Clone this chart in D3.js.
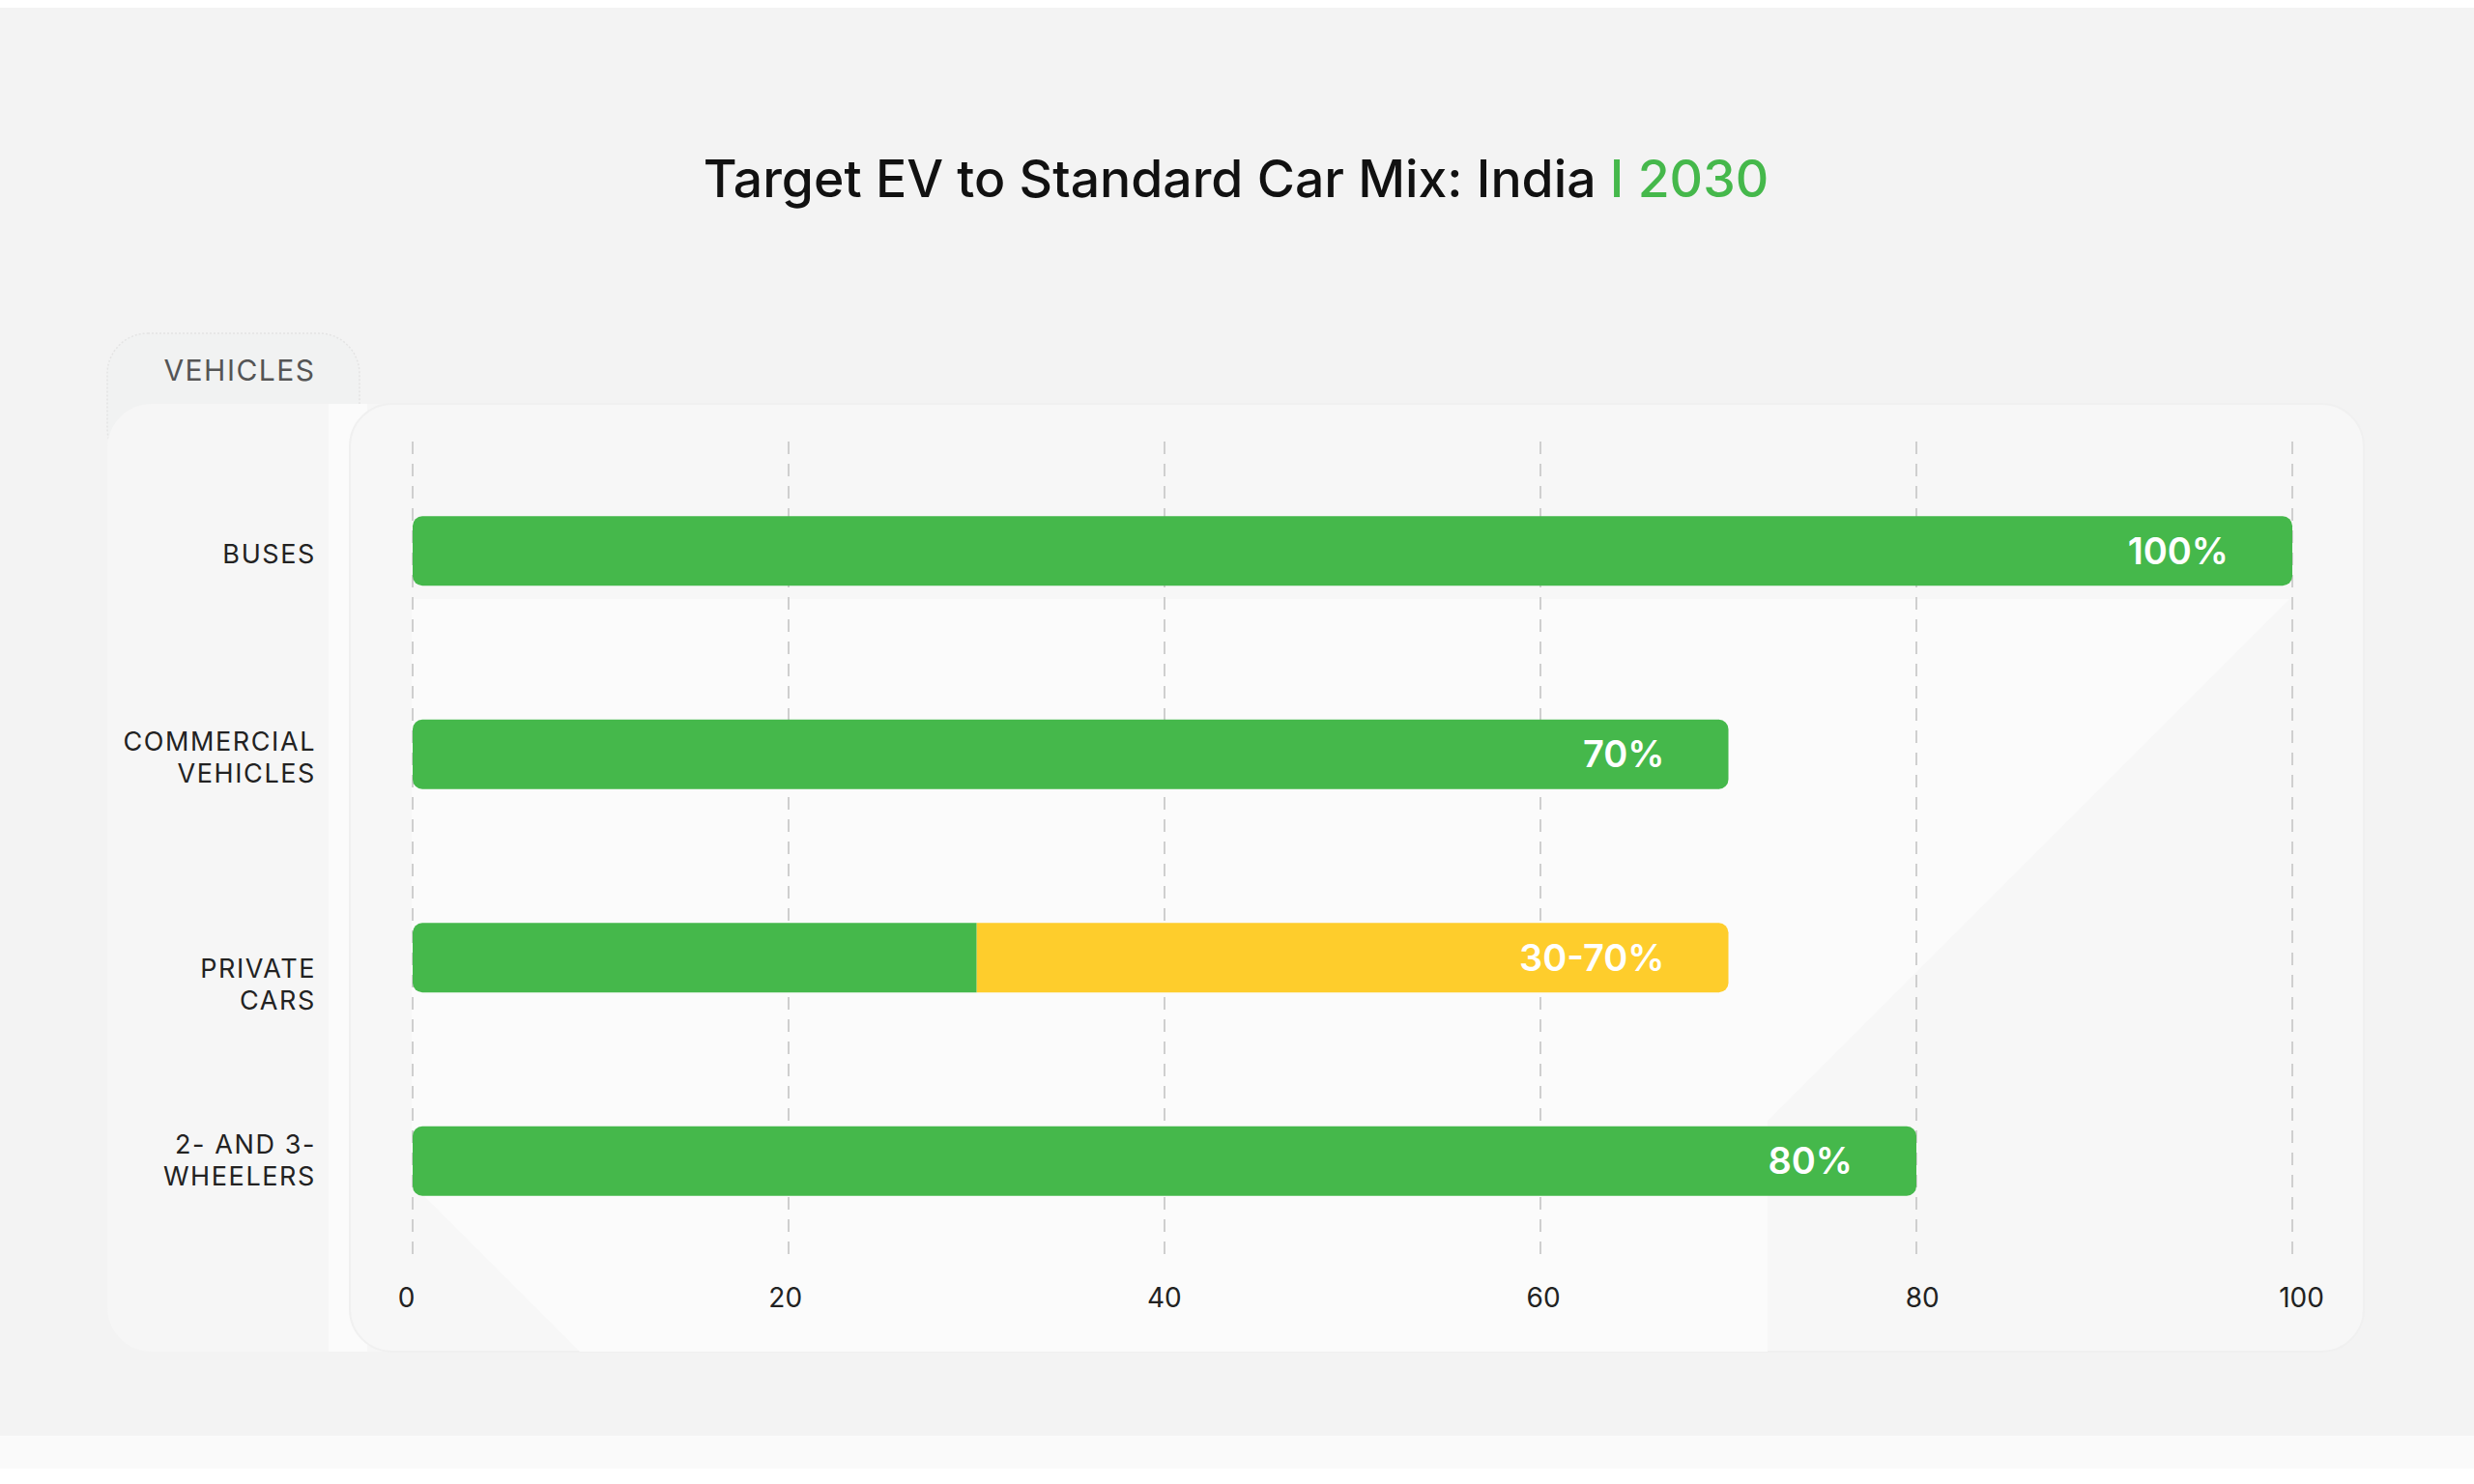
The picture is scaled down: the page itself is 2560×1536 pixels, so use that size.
<!DOCTYPE html>
<html>
<head>
<meta charset="utf-8">
<script src="https://cdn.jsdelivr.net/npm/d3@7"></script>
<style>
  html, body { margin: 0; padding: 0; background: #ffffff; }
  svg { display: block; }
</style>
</head>
<body>
<div id="chart"></div>
<script>
// chart values
const categories = ["BUSES", "COMMERCIAL VEHICLES", "PRIVATE CARS", "2- AND 3- WHEELERS"];
const labelLines = [["BUSES"], ["COMMERCIAL", "VEHICLES"], ["PRIVATE", "CARS"], ["2- AND 3-", "WHEELERS"]];
const lowValues = [100, 70, 30, 80];
const highValues = [100, 70, 70, 80];
const valueLabels = ["100%", "70%", "30-70%", "80%"];
const xTicks = [0, 20, 40, 60, 80, 100];

const width = 2560, height = 1536;
const green = "#45b84b", yellow = "#fecd2c";
const font = "Inter, 'Noto Sans', sans-serif";
// vertical nudge of the category labels, as set in the original layout
const labelShift = [0, 0, 25, -4];

const svg = d3.select("#chart")
  .append("svg")
    .attr("width", width)
    .attr("height", height)
    .attr("viewBox", [0, 0, width, height]);

/* background */
svg.append("rect").attr("x", 0).attr("y", 8).attr("width", width).attr("height", 1478).attr("fill", "#f3f3f3");
svg.append("rect").attr("x", 0).attr("y", 1486).attr("width", width).attr("height", 34).attr("fill", "#fafafa");

/* title */
const title = svg.append("text")
  .attr("x", 1279)
  .attr("y", 204)
  .attr("text-anchor", "middle")
  .style("font-family", font)
  .style("font-size", "53.5px")
  .style("font-weight", 500)
  .style("fill", "#111111");
title.append("tspan").text("Target EV to Standard Car Mix: India ");
title.append("tspan").style("fill", green).text("I 2030");

/* tab + card */
svg.append("rect")
  .attr("x", 111).attr("y", 345).attr("width", 261).attr("height", 140).attr("rx", 42)
  .attr("fill", "#f1f2f2").attr("stroke", "#e4e4e4").attr("stroke-width", 1.5).attr("stroke-dasharray", "2,2");
svg.append("text")
  .attr("x", 248).attr("y", 383).attr("dy", "0.35em")
  .attr("text-anchor", "middle")
  .style("font-family", font).style("font-size", "30px").style("font-weight", 400)
  .style("letter-spacing", "1.5px")
  .style("fill", "#555555")
  .text("VEHICLES");

svg.append("rect")
  .attr("x", 111).attr("y", 418).attr("width", 2335).attr("height", 981).attr("rx", 46)
  .attr("fill", "#f6f6f6");
svg.append("rect")
  .attr("x", 340).attr("y", 418).attr("width", 40).attr("height", 981)
  .attr("fill", "#fbfbfb");
svg.append("rect")
  .attr("x", 362).attr("y", 418).attr("width", 2084).attr("height", 981).attr("rx", 44)
  .attr("fill", "#f7f7f7").attr("stroke", "#f0f0f0").attr("stroke-width", 2);
// faint lighter backdrop shape in the plot panel
svg.append("path")
  .attr("d", "M426,620 L2369,620 L1829,1160 L1829,1399 L600,1399 L426,1225 Z")
  .attr("fill", "#fbfbfb");

/* scales */
const xScale = d3.scaleLinear()
  .domain([0, 100])
  .range([427, 2372]);

// tick labels sit a touch wider than the gridlines in the original
const tickScale = d3.scaleLinear()
  .domain([0, 100])
  .range([420, 2381]);

const yScale = d3.scaleBand()
  .domain(categories)
  .range([465, 1307])
  .paddingInner(0.658)
  .paddingOuter(0.329);

/* gridlines */
svg.append("g")
  .selectAll("line")
  .data(xTicks)
  .join("line")
    .attr("x1", d => xScale(d))
    .attr("x2", d => xScale(d))
    .attr("y1", 457)
    .attr("y2", 1306)
    .attr("stroke", "#cfcfcf")
    .attr("stroke-width", 2)
    .attr("stroke-dasharray", "13,10");

/* x axis */
const xAxis = d3.axisBottom(tickScale).tickValues(xTicks).tickSize(0).tickPadding(0);
const xGroup = svg.append("g")
  .attr("transform", "translate(0,1333)")
  .call(xAxis);
xGroup.select(".domain").remove();
xGroup.selectAll("text")
  .style("font-family", font)
  .style("font-size", "28px")
  .style("font-weight", 400)
  .style("fill", "#222222");

/* rounded bar path with separate left/right radius */
const barPath = (x0, x1, y, h, rl, rr) => {
  const p = d3.path();
  p.moveTo(x0 + rl, y);
  p.lineTo(x1 - rr, y);
  p.arcTo(x1, y, x1, y + rr, rr);
  p.lineTo(x1, y + h - rr);
  p.arcTo(x1, y + h, x1 - rr, y + h, rr);
  p.lineTo(x0 + rl, y + h);
  p.arcTo(x0, y + h, x0, y + h - rl, rl);
  p.lineTo(x0, y + rl);
  p.arcTo(x0, y, x0 + rl, y, rl);
  p.closePath();
  return p.toString();
};

const rows = categories.map((c, i) => ({
  cat: c, lines: labelLines[i], low: lowValues[i], high: highValues[i], label: valueLabels[i], shift: labelShift[i]
}));

const r = 10;
const bh = yScale.bandwidth();

/* yellow range part */
svg.append("g")
  .selectAll("path")
  .data(rows.filter(d => d.high > d.low))
  .join("path")
    .attr("d", d => barPath(xScale(d.low), xScale(d.high), yScale(d.cat), bh, 0, r))
    .attr("fill", yellow);

/* green base part */
svg.append("g")
  .selectAll("path")
  .data(rows)
  .join("path")
    .attr("d", d => barPath(xScale(0), xScale(d.low), yScale(d.cat), bh, r, d.high > d.low ? 0 : r))
    .attr("fill", green);

/* value labels */
svg.append("g")
  .selectAll("text")
  .data(rows)
  .join("text")
    .attr("x", d => xScale(d.high) - 66)
    .attr("y", d => yScale(d.cat) + bh / 2)
    .attr("dy", "0.36em")
    .attr("text-anchor", "end")
    .style("font-family", font)
    .style("font-size", "38px")
    .style("font-weight", 600)
    .style("fill", "#ffffff")
    .text(d => d.label);

/* category labels */
const lineH = 33;
const catText = svg.append("g")
  .selectAll("text")
  .data(rows)
  .join("text")
    .attr("text-anchor", "end")
    .style("font-family", font)
    .style("font-size", "27px")
    .style("font-weight", 400)
    .style("letter-spacing", "1.6px")
    .style("fill", "#222222");

catText.selectAll("tspan")
  .data(d => d.lines.map((t, j) => ({t, j, n: d.lines.length, cat: d.cat, shift: d.shift})))
  .join("tspan")
    .attr("x", 327)
    .attr("y", d => yScale(d.cat) + bh / 2 + (d.j - (d.n - 1) / 2) * lineH + 3 + d.shift)
    .attr("dy", "0.35em")
    .text(d => d.t);
</script>
</body>
</html>
